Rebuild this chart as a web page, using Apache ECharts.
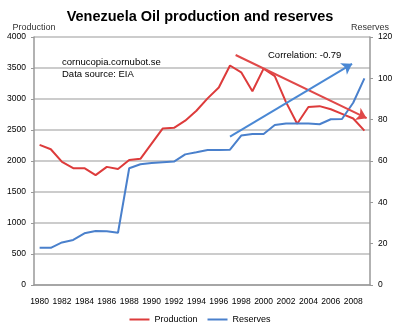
<!DOCTYPE html>
<html><head><meta charset="utf-8">
<script src="https://cdn.jsdelivr.net/npm/echarts@6/dist/echarts.min.js"></script>
<style>html,body{margin:0;padding:0;background:#fff}#c{width:400px;height:331px}</style>
</head><body><div id="c"></div>
<script>
var years = ['1980','1981','1982','1983','1984','1985','1986','1987','1988','1989','1990','1991','1992','1993','1994','1995','1996','1997','1998','1999','2000','2001','2002','2003','2004','2005','2006','2007','2008','2009'];
var production = [2260,2190,1985,1885,1885,1772,1905,1870,2015,2035,2280,2525,2535,2650,2810,3010,3185,3540,3430,3125,3490,3370,2950,2600,2870,2885,2835,2760,2685,2490];
var reserves = [18.0,18.0,20.6,21.8,25.0,26.1,26.0,25.3,56.5,58.4,59.0,59.4,59.7,63.2,64.2,65.3,65.3,65.5,72.3,73.1,73.1,77.4,78.2,78.2,78.2,77.8,80.2,80.3,88.2,100.0];
var leftTicks = {min:0, max:4000, interval:500};
var rightTicks = {min:0, max:120, interval:20};
// trend arrows: [startYear, startValue, endYear, endValue]
var reservesArrow = [1997.0, 71.8, 2007.9, 107];
var productionArrow = [1997.5, 3710, 2009.2, 2690];
var titleText = 'Venezuela Oil production and reserves';
var noteLines = ['cornucopia.cornubot.se', 'Data source: EIA'];
var corrText = 'Correlation: -0.79';

var RED = '#DD3B3B', BLUE = '#4A80CC';
var FONT = 'Liberation Sans';
var plain = function(v){ return String(v); };
var chart = echarts.init(document.getElementById('c'), null, {renderer:'canvas'});
chart.setOption({
  animation:false,
  textStyle:{fontFamily:FONT},
  title:{text:titleText, left:'center', top:4, textStyle:{fontFamily:FONT, fontSize:14.5, fontWeight:'bold', color:'#000'}},
  grid:{left:34, right:30, top:37, bottom:46},
  legend:{data:['Production','Reserves'], bottom:2, left:'center', icon:'rect', itemWidth:20, itemHeight:2, itemGap:10,
    textStyle:{fontFamily:FONT, fontSize:9, color:'#000'}},
  xAxis:[{type:'category', data:years, boundaryGap:true,
    axisLine:{lineStyle:{color:'#999', width:1.5}},
    axisTick:{interval:0, length:3, lineStyle:{color:'#999'}},
    axisLabel:{interval:1, fontSize:8.5, color:'#000', margin:12}},
   {type:'value', min:1979.5, max:2009.5, show:false}],
  yAxis:[{type:'value', name:'Production', min:leftTicks.min, max:leftTicks.max, interval:leftTicks.interval,
    nameGap:5, nameTextStyle:{fontSize:9, color:'#333', align:'center'},
    axisLine:{show:true, lineStyle:{color:'#999', width:1.5}},
    axisTick:{show:true, length:3, lineStyle:{color:'#999'}},
    axisLabel:{fontSize:8.5, color:'#000', margin:8, formatter:plain},
    splitLine:{lineStyle:{color:'#BBBBBB', width:1.5}}},
   {type:'value', name:'Reserves', min:rightTicks.min, max:rightTicks.max, interval:rightTicks.interval,
    nameGap:5, nameTextStyle:{fontSize:9, color:'#333', align:'center'},
    axisLine:{show:true, lineStyle:{color:'#999', width:1.5}},
    axisTick:{show:true, length:3, lineStyle:{color:'#999'}},
    axisLabel:{fontSize:8.5, color:'#000', margin:8, formatter:plain},
    splitLine:{show:false}}],
  series:[
    {name:'Production', type:'line', data:production, yAxisIndex:0, showSymbol:false, symbol:'none',
     lineStyle:{color:RED, width:2}, itemStyle:{color:RED}, z:3},
    {name:'Reserves', type:'line', data:reserves, yAxisIndex:1, showSymbol:false, symbol:'none',
     lineStyle:{color:BLUE, width:2}, itemStyle:{color:BLUE}, z:3},
    {name:'pArrow', type:'lines', coordinateSystem:'cartesian2d', xAxisIndex:1, yAxisIndex:0,
     symbol:['none','arrow'], symbolSize:10, silent:true, z:4,
     lineStyle:{color:'#E04848', width:2, opacity:1},
     data:[{coords:[[productionArrow[0],productionArrow[1]],[productionArrow[2],productionArrow[3]]]}]},
    {name:'rArrow', type:'lines', coordinateSystem:'cartesian2d', xAxisIndex:1, yAxisIndex:1,
     symbol:['none','arrow'], symbolSize:10, silent:true, z:4,
     lineStyle:{color:'#4A88D4', width:2, opacity:1},
     data:[{coords:[[reservesArrow[0],reservesArrow[1]],[reservesArrow[2],reservesArrow[3]]]}]}
  ],
  graphic:[
    {type:'text', left:62, top:56, style:{text:noteLines.join('\n'), fontFamily:FONT, fontSize:9.5, lineHeight:12, fill:'#000'}},
    {type:'text', left:268, top:50, style:{text:corrText, fontFamily:FONT, fontSize:9.5, fill:'#000'}}
  ]
});
</script></body></html>
